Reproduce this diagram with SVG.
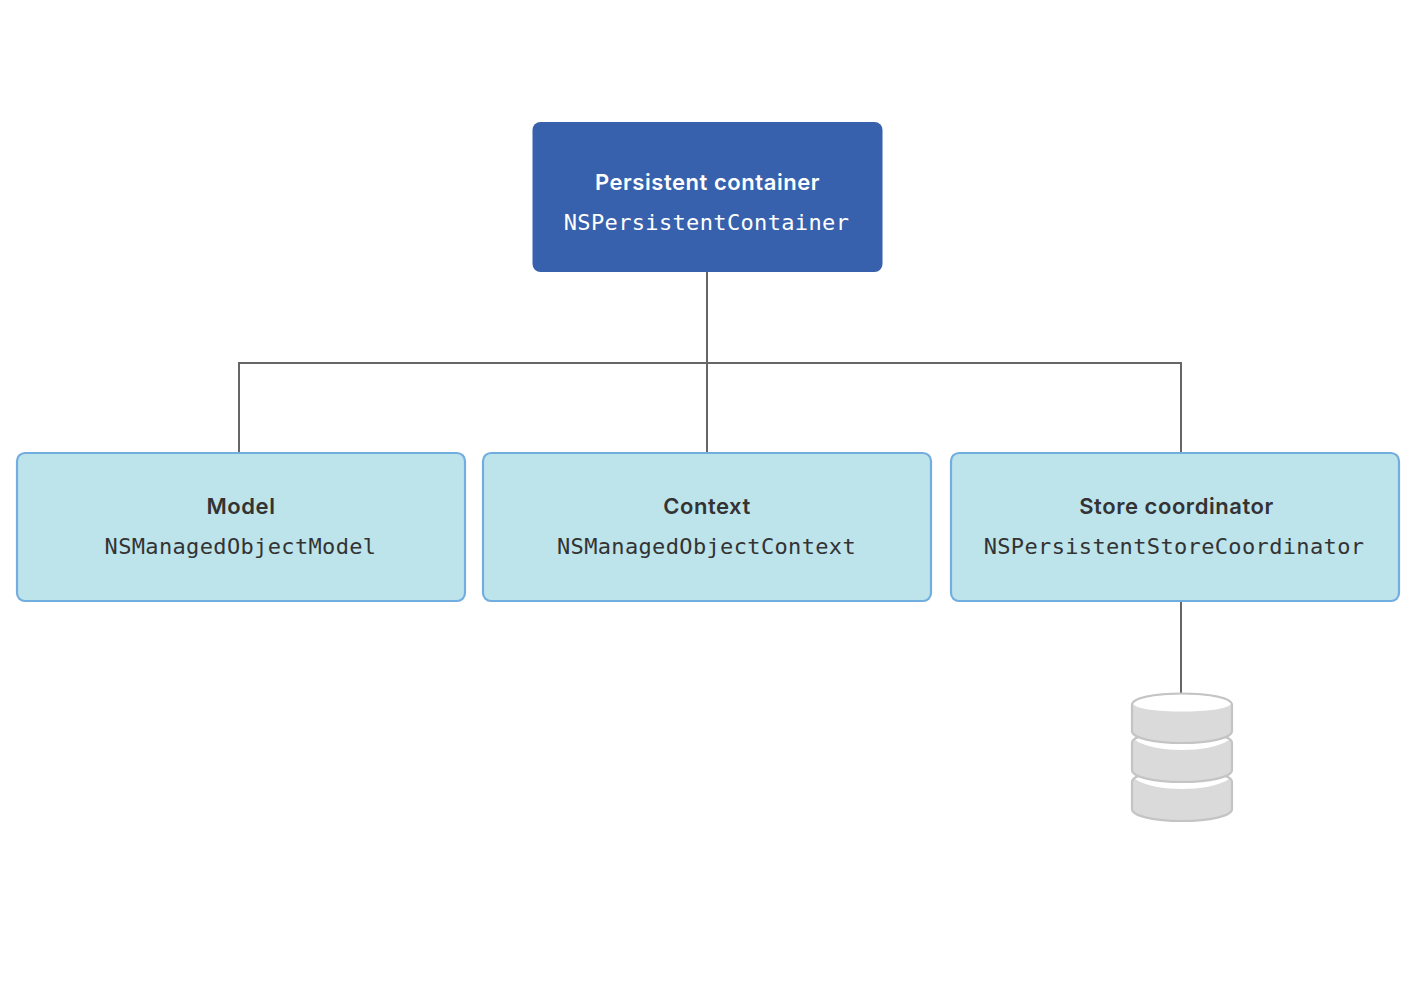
<svg xmlns="http://www.w3.org/2000/svg" width="1420" height="1000" viewBox="0 0 1420 1000">
<style>
.t{font-family:Inter,"Liberation Sans",sans-serif;font-weight:600;font-size:22px;letter-spacing:.55px;text-anchor:middle;fill:#333}
.m{font-family:"DejaVu Sans Mono","Liberation Mono",monospace;font-size:22px;letter-spacing:.35px;text-anchor:middle;fill:#333}
.w{fill:#fff}
.b{fill:#bde3eb;stroke:#72ade0;stroke-width:2.2}
.c{fill:none;stroke:#666;stroke-width:2}
.d{fill:#dadada;stroke:#c4c4c4;stroke-width:2.2}
.e{fill:#fff;stroke:none}
</style>
<rect width="1420" height="1000" fill="#fff"/>
<g id="connectors">
<path class="c" d="M707 272V452M239 452V363H1181V452M1181 601V693"/>
</g>
<g id="container">
<rect x="532.500" y="122" width="350" height="150" rx="8" fill="#3761ad"/>
<text class="t w" x="707.500" y="190">Persistent container</text>
<text class="m w" x="706.500" y="230">NSPersistentContainer</text>
</g>
<g id="model">
<rect class="b" x="17" y="453" width="448" height="148" rx="8"/>
<text class="t" x="241" y="514">Model</text>
<text class="m" x="240.500" y="554">NSManagedObjectModel</text>
</g>
<g id="context">
<rect class="b" x="483" y="453" width="448" height="148" rx="8"/>
<text class="t" x="707" y="514">Context</text>
<text class="m" x="706.500" y="554">NSManagedObjectContext</text>
</g>
<g id="coordinator">
<rect class="b" x="951" y="453" width="448" height="148" rx="8"/>
<text class="t" x="1176.500" y="514">Store coordinator</text>
<text class="m" x="1174" y="554">NSPersistentStoreCoordinator</text>
</g>
<g id="store">
<path class="d" d="M1132 782V809C1132 816 1154 821 1182 821C1210 821 1232 816 1232 809V782C1232 775 1210 770 1182 770C1154 770 1132 775 1132 782Z"/>
<path class="e" d="M1135 779C1145 786 1165 789 1182 789C1199 789 1219 786 1229 779C1219 773 1199 770 1182 770C1165 770 1145 773 1135 779Z"/>
<path class="d" d="M1132 743V770C1132 777 1154 782 1182 782C1210 782 1232 777 1232 770V743C1232 736 1210 731 1182 731C1154 731 1132 736 1132 743Z"/>
<path class="e" d="M1135 740C1145 747 1165 750 1182 750C1199 750 1219 747 1229 740C1219 734 1199 731 1182 731C1165 731 1145 734 1135 740Z"/>
<path class="d" d="M1132 705V731C1132 738 1154 743 1182 743C1210 743 1232 738 1232 731V705C1232 698 1210 693.500 1182 693.500C1154 693.500 1132 698 1132 705Z"/>
<path class="e" d="M1133.200 704C1136 709 1158 711.500 1182 711.500C1206 711.500 1228 709 1230.800 704C1228 698 1206 694.700 1182 694.700C1158 694.700 1136 698 1133.200 704Z"/>
</g>
</svg>
